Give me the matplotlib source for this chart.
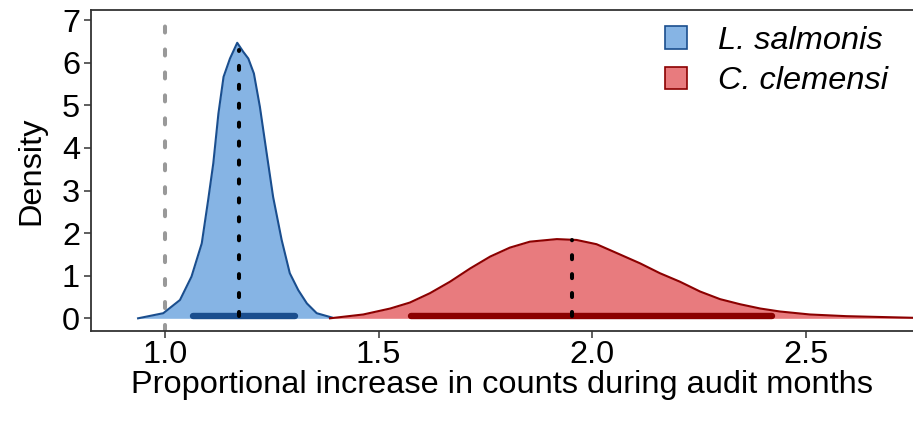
import matplotlib
matplotlib.use("Agg")
import matplotlib.pyplot as plt
from matplotlib.patches import Patch

plt.rcParams['font.family'] = ['Liberation Sans', 'DejaVu Sans']

# ---- data ----
species = ["L. salmonis", "C. clemensi"]

ls_x = [0.937, 0.996, 1.035, 1.062, 1.086, 1.101, 1.113, 1.125, 1.137, 1.152,
        1.169, 1.183, 1.195, 1.208, 1.222, 1.238, 1.253, 1.273, 1.292, 1.312,
        1.332, 1.355, 1.390]
ls_y = [0.00, 0.12, 0.43, 0.98, 1.76, 2.78, 3.64, 4.81, 5.67, 6.10,
        6.47, 6.26, 6.10, 5.75, 4.97, 3.87, 2.85, 1.84, 1.06, 0.66,
        0.35, 0.12, 0.02]

cc_x = [1.386, 1.464, 1.527, 1.573, 1.620, 1.667, 1.714, 1.761, 1.807, 1.854,
        1.917, 1.963, 2.010, 2.060, 2.112, 2.158, 2.205, 2.252, 2.299, 2.346,
        2.393, 2.439, 2.509, 2.595, 2.760]
cc_y = [0.00, 0.09, 0.23, 0.37, 0.59, 0.86, 1.17, 1.45, 1.66, 1.80,
        1.86, 1.84, 1.74, 1.52, 1.29, 1.06, 0.86, 0.63, 0.45, 0.33,
        0.23, 0.16, 0.09, 0.05, 0.01]

medians = [1.174, 1.953]
median_heights = [6.30, 1.84]
ci_low = [1.065, 1.576]
ci_high = [1.305, 2.420]
ref_line = 1.0

xticks = [1.0, 1.5, 2.0, 2.5]
xtick_labels = ["1.0", "1.5", "2.0", "2.5"]
yticks = [0, 1, 2, 3, 4, 5, 6, 7]

fills = ["#86B4E4", "#E87B7E"]
edges = ["#1A4E8E", "#8B0000"]

FS = 23.4

# ---- figure ----
fig = plt.figure(figsize=(9.13, 4.21), dpi=100)
ax = fig.add_axes([91/913, 1 - 330.7/421, 1 - 91/913, (330.7 - 10)/421])

curves = [(ls_x, ls_y), (cc_x, cc_y)]
for i, (cx, cy) in enumerate(curves):
    ax.fill_between(cx, 0, cy, color=fills[i], lw=0, zorder=2)
    ax.plot(cx, cy, color=edges[i], lw=1.5, zorder=3, solid_joinstyle='round')

ax.axvline(ref_line, color="#999999", lw=2.9, dashes=(1.5, 4.2),
           dash_capstyle='round', zorder=1)

for i in range(2):
    ax.plot([ci_low[i], ci_high[i]], [0.06, 0.06], color=edges[i], lw=4.6,
            solid_capstyle='round', zorder=4)
    ax.plot([medians[i], medians[i]], [0.05, median_heights[i]], color="black",
            lw=2.9, dashes=(1.0, 3.7), dash_capstyle='round', zorder=5)

ax.set_xlim(0.8268, 2.7505)
ax.set_ylim(-0.291, 7.24)
ax.set_xticks(xticks)
ax.set_xticklabels(xtick_labels)
ax.set_yticks(yticks)

for s in ["left", "top", "bottom"]:
    ax.spines[s].set_color("#333333")
    ax.spines[s].set_linewidth(1.3)
ax.spines["right"].set_visible(False)

ax.tick_params(axis='both', direction='out', length=5, width=1.1,
               color="#333333", labelsize=FS, labelcolor="black")
ax.tick_params(axis='x', pad=1.5)
ax.tick_params(axis='y', pad=3)

ax.set_xlabel("Proportional increase in counts during audit months",
              fontsize=FS, labelpad=0)
ax.set_ylabel("Density", fontsize=FS, labelpad=11)

handles = [Patch(facecolor=fills[i], edgecolor=edges[i], lw=1.2) for i in range(2)]
leg = ax.legend(handles, species, loc="upper right", frameon=False,
                prop={'style': 'italic', 'size': FS}, handlelength=0.68,
                handleheight=0.68, handletextpad=0.95, labelspacing=0.32,
                borderpad=0, borderaxespad=0,
                bbox_to_anchor=(888/913, 1 - 26/421),
                bbox_transform=fig.transFigure)

fig.savefig("out.png", dpi=100)
